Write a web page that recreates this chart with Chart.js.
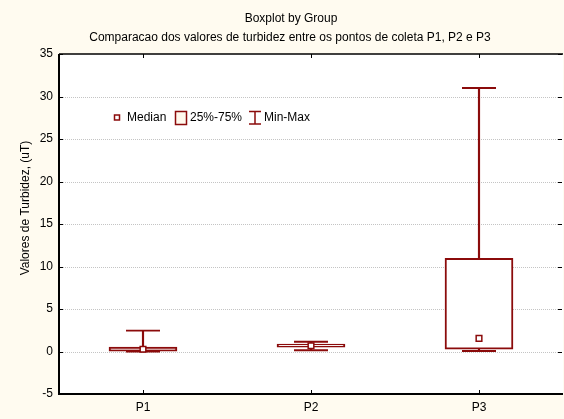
<!DOCTYPE html>
<html>
<head>
<meta charset="utf-8">
<script src="https://cdn.jsdelivr.net/npm/chart.js@4/dist/chart.umd.min.js"></script>
<style>
  html, body { margin: 0; padding: 0; background: #fffbf0; overflow: hidden; }
  #wrap { width: 564px; height: 419px; overflow: hidden; }
  canvas { display: block; }
</style>
</head>
<body>
<div id="wrap"><canvas id="c" width="564" height="419"></canvas></div>
<script>
// ---- data ----
const categories   = ['P1', 'P2', 'P3'];
const minValues    = [0.00, 0.15, 0.06];
const q1Values     = [0.03, 0.50, 0.27];
const medianValues = [0.27, 0.68, 1.55];
const q3Values     = [0.53, 0.88, 10.95];
const maxValues    = [2.45, 1.15, 31.00];
const yTickValues  = [-5, 0, 5, 10, 15, 20, 25, 30, 35];

const titleText    = 'Boxplot by Group';
const subtitleText = 'Comparacao dos valores de turbidez entre os pontos de coleta P1, P2 e P3';
const yTitleText   = 'Valores de Turbidez, (uT)';
const legendLabels = ['Median', '25%-75%', 'Min-Max'];

// ---- styles ----
const CREAM = '#fffbf0';
const RED = '#8b0b0b';
const FONT = '12px "Liberation Sans", Arial, sans-serif';

const bgPlugin = {
  id: 'bg',
  beforeDraw(chart) {
    const { ctx, chartArea: a } = chart;
    ctx.save();
    ctx.fillStyle = CREAM;
    ctx.fillRect(0, 0, chart.width, chart.height);
    ctx.fillStyle = '#ffffff';
    ctx.fillRect(a.left, a.top, a.right - a.left, a.bottom - a.top);
    ctx.restore();
  },
  beforeDatasetsDraw(chart) {
    const { ctx, chartArea: a, scales } = chart;
    const y = scales.y;
    ctx.save();
    ctx.strokeStyle = '#c4c4c4';
    ctx.lineWidth = 1;
    ctx.setLineDash([1, 1]);
    yTickValues.forEach(v => {
      if (v <= y.min || v >= y.max) return;
      const py = Math.round(y.getPixelForValue(v)) + 0.5;
      ctx.beginPath();
      ctx.moveTo(a.left, py);
      ctx.lineTo(a.right, py);
      ctx.stroke();
    });
    ctx.restore();
  },
  afterDraw(chart) {
    const { ctx, chartArea: a, scales } = chart;
    const x = scales.x, y = scales.y;
    ctx.save();
    // frame
    ctx.strokeStyle = '#000';
    ctx.lineWidth = 1.5;
    ctx.beginPath();
    ctx.moveTo(a.left, a.top);
    ctx.lineTo(a.right, a.top);
    ctx.stroke();
    ctx.lineWidth = 2;
    ctx.beginPath();
    ctx.moveTo(a.left, a.top);
    ctx.lineTo(a.left, a.bottom);
    ctx.lineTo(a.right, a.bottom);
    ctx.stroke();
    // inner ticks
    ctx.lineWidth = 1;
    yTickValues.forEach(v => {
      const py = Math.round(y.getPixelForValue(v)) + 0.5;
      ctx.beginPath();
      ctx.moveTo(a.left, py); ctx.lineTo(a.left + 4, py);
      ctx.moveTo(a.right - 1, py); ctx.lineTo(a.right - 5, py);
      ctx.stroke();
    });
    categories.forEach((c, i) => {
      const px = Math.round(x.getPixelForValue(i)) + 0.5;
      ctx.beginPath();
      ctx.moveTo(px, a.top); ctx.lineTo(px, a.top + 4);
      ctx.moveTo(px, a.bottom); ctx.lineTo(px, a.bottom - 4);
      ctx.stroke();
    });
    // titles
    ctx.fillStyle = '#000';
    ctx.font = FONT;
    ctx.textAlign = 'center';
    ctx.textBaseline = 'middle';
    ctx.fillText(titleText, 291, 19);
    ctx.fillText(subtitleText, 290, 38);
    // y title
    ctx.save();
    ctx.translate(26, 208);
    ctx.rotate(-Math.PI / 2);
    ctx.fillText(yTitleText, 0, 0);
    ctx.restore();
    // legend
    const ly = a.top + 63.5;
    ctx.textAlign = 'left';
    ctx.lineWidth = 1.5;
    ctx.strokeStyle = RED;
    ctx.fillStyle = '#fff';
    ctx.fillRect(114.5, ly - 2.5, 5, 5);
    ctx.strokeRect(114.5, ly - 2.5, 5, 5);
    ctx.fillStyle = '#000';
    ctx.fillText(legendLabels[0], 127, ly);
    ctx.fillStyle = '#fff8ec';
    ctx.fillRect(175.5, ly - 6, 11, 13);
    ctx.strokeRect(175.5, ly - 6, 11, 13);
    ctx.fillStyle = '#000';
    ctx.fillText(legendLabels[1], 190, ly);
    ctx.beginPath();
    ctx.moveTo(249, ly - 6); ctx.lineTo(261, ly - 6);
    ctx.moveTo(255, ly - 6); ctx.lineTo(255, ly + 6.5);
    ctx.moveTo(249, ly + 6.5); ctx.lineTo(261, ly + 6.5);
    ctx.stroke();
    ctx.fillStyle = '#000';
    ctx.fillText(legendLabels[2], 264, ly);
    ctx.restore();
  }
};

new Chart(document.getElementById('c'), {
  type: 'bar',
  data: {
    labels: categories,
    datasets: [
      {
        label: 'Min-Max',
        data: categories.map((c, i) => [minValues[i], maxValues[i]]),
        backgroundColor: RED,
        borderWidth: 0,
        barThickness: 1.5,
        grouped: false,
        order: 4
      },
      {
        label: '25%-75%',
        data: categories.map((c, i) => [q1Values[i], q3Values[i]]),
        backgroundColor: '#ffffff',
        borderColor: RED,
        borderWidth: 2,
        borderSkipped: false,
        barThickness: 68,
        grouped: false,
        order: 3
      },
      {
        type: 'line',
        label: 'Max',
        data: maxValues,
        showLine: false,
        pointStyle: 'line',
        pointRadius: 17,
        borderColor: RED,
        borderWidth: 1.8,
        order: 2
      },
      {
        type: 'line',
        label: 'Min',
        data: minValues,
        showLine: false,
        pointStyle: 'line',
        pointRadius: 17,
        borderColor: RED,
        borderWidth: 1.8,
        order: 2
      },
      {
        type: 'line',
        label: 'Median',
        data: medianValues,
        showLine: false,
        pointStyle: 'rect',
        pointRadius: 4,
        pointBackgroundColor: '#ffffff',
        pointBorderColor: RED,
        pointBorderWidth: 1.5,
        order: 1
      }
    ]
  },
  options: {
    responsive: false,
    devicePixelRatio: 1,
    animation: false,
    events: [],
    layout: { autoPadding: false, padding: { top: 54, right: 1, bottom: 0, left: 0 } },
    plugins: {
      legend: { display: false },
      title: { display: false },
      tooltip: { enabled: false }
    },
    scales: {
      x: {
        offset: true,
        grid: { display: false, drawTicks: false },
        border: { display: false },
        ticks: { color: '#000', font: { family: '"Liberation Sans", Arial, sans-serif', size: 12 }, padding: 6 },
        afterFit(s) { s.height = 25; s.paddingLeft = 0; s.paddingRight = 0; }
      },
      y: {
        min: -5,
        max: 35,
        grid: { display: false, drawTicks: false },
        border: { display: false },
        ticks: {
          stepSize: 5,
          color: '#000',
          font: { family: '"Liberation Sans", Arial, sans-serif', size: 12 },
          padding: 6
        },
        afterFit(s) { s.width = 59; s.paddingTop = 0; s.paddingBottom = 0; }
      }
    }
  },
  plugins: [bgPlugin]
});
</script>
</body>
</html>
